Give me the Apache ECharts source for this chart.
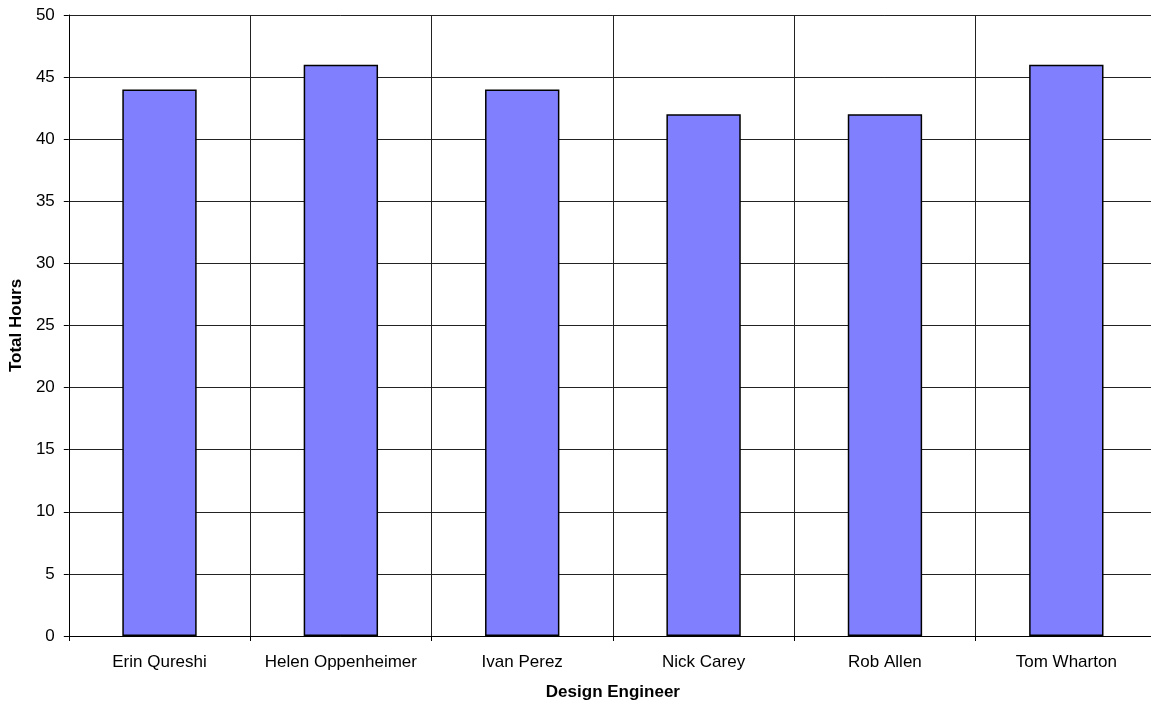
<!DOCTYPE html>
<html>
<head>
<meta charset="utf-8">
<script src="https://cdn.jsdelivr.net/npm/echarts@6/dist/echarts.min.js"></script>
<style>
  html, body { margin: 0; padding: 0; background: #fff; overflow: hidden; }
  #chart { width: 1157px; height: 706px; }
</style>
</head>
<body>
<div id="chart"></div>
<script>
// Weekly total hours per design engineer
const engineers = ['Erin Qureshi', 'Helen Oppenheimer', 'Ivan Perez', 'Nick Carey', 'Rob Allen', 'Tom Wharton'];
const totalHours = [44, 46, 44, 42, 42, 46];

const FONT = '"Liberation Sans", Arial, sans-serif';
const chart = echarts.init(document.getElementById('chart'), null, { renderer: 'canvas' });

chart.setOption({
  animation: false,
  backgroundColor: '#ffffff',
  grid: { left: 67, right: 0, top: 15, bottom: 70, containLabel: false },
  xAxis: {
    type: 'category',
    data: engineers,
    name: 'Design Engineer',
    nameLocation: 'middle',
    nameGap: 48,
    nameTextStyle: { fontFamily: FONT, fontSize: 17, fontWeight: 'bold', color: '#000' },
    axisLine: { lineStyle: { color: '#000', width: 1 } },
    axisTick: { show: true, interval: 0, alignWithLabel: false, length: 5, lineStyle: { color: '#000' } },
    axisLabel: { interval: 0, hideOverlap: false, fontFamily: FONT, fontSize: 17, color: '#000', margin: 18 },
    splitLine: { show: true, interval: 0, lineStyle: { color: '#222', width: 1 } }
  },
  yAxis: {
    type: 'value',
    min: 0,
    max: 50,
    interval: 5,
    name: 'Total Hours',
    nameLocation: 'middle',
    nameGap: 42,
    nameRotate: 90,
    nameTextStyle: { fontFamily: FONT, fontSize: 17, fontWeight: 'bold', color: '#000' },
    axisLine: { show: true, lineStyle: { color: '#000', width: 1 } },
    axisTick: { show: true, length: 5, lineStyle: { color: '#000' } },
    axisLabel: { fontFamily: FONT, fontSize: 17, color: '#000', margin: 14 },
    splitLine: { show: true, lineStyle: { color: '#222', width: 1 } }
  },
  series: [{
    type: 'bar',
    data: totalHours,
    barCategoryGap: '59%',
    itemStyle: { color: '#8080ff', borderColor: '#000', borderWidth: 1.5 }
  }]
});
</script>
</body>
</html>
